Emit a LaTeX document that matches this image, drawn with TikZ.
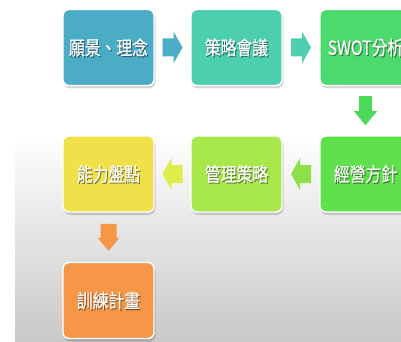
\documentclass[tikz,border=0pt]{standalone}
\usepackage{fontspec}
\usepackage{graphicx}
\newfontfamily\cjk[FakeBold=0.6]{Noto Sans CJK TC}
\usetikzlibrary{calc}
\definecolor{cA}{HTML}{4BACC6}
\definecolor{cB}{HTML}{4BCFAF}
\definecolor{cC}{HTML}{4CD96E}
\definecolor{cD}{HTML}{5EE14A}
\definecolor{cE}{HTML}{A8E84B}
\definecolor{cF}{HTML}{F0E14A}
\definecolor{cG}{HTML}{F79646}
\definecolor{aA}{HTML}{4BADC6}
\definecolor{aB}{HTML}{4BCFAF}
\definecolor{aC}{HTML}{4CD95A}
\definecolor{aD}{HTML}{8EE04A}
\definecolor{aE}{HTML}{DDEE4A}
\definecolor{aF}{HTML}{F79646}
\definecolor{bggray}{HTML}{C8C8C8}
\tikzset{
  stepbox/.style={rounded corners=6pt, minimum width=91pt, minimum height=76pt,
    draw=white, line width=1.4pt, inner sep=0pt},
  shadowbox/.style={rounded corners=7pt, minimum width=92pt, minimum height=77pt,
    fill=black, fill opacity=0.16, inner sep=0pt},
  txt/.style={font=\cjk\fontsize{15.8}{18}\selectfont, text=white, inner sep=0pt},
  txtshadow/.style={font=\cjk\fontsize{15.8}{18}\selectfont, text=black, text opacity=0.4, inner sep=0pt},
  pics/barrow/.style n args={4}{code={%
    \fill (-#1/2,-#3/2) -- (#1/2-#4,-#3/2) -- (#1/2-#4,-#2/2) -- (#1/2,0)
      -- (#1/2-#4,#2/2) -- (#1/2-#4,#3/2) -- (-#1/2,#3/2) -- cycle;}},
}
\newcommand\flowbox[5]{%
  \node[shadowbox] (#1s) at (#2+1,#3+2.5) {};
  \node[stepbox, fill=#4] (#1) at (#2,#3) {};
  \node[txtshadow] (#1ts) at (#2+1,#3+1.2) {\scalebox{1}[1.22]{#5}};
  \node[txt] (#1t) at (#2,#3) {\scalebox{1}[1.22]{#5}};
}
\begin{document}
\begin{tikzpicture}[x=1pt,y=-1pt]
  \useasboundingbox (0,0) rectangle (401,342);
  \clip (0,0) rectangle (401,342);
  \fill[white] (0,0) rectangle (401,342);
  \shade[top color=white, bottom color=bggray] (15,135) rectangle (401,342);

  \flowbox{b1}{108.5}{47.5}{cA}{願景、理念}
  \flowbox{b2}{236.5}{47.5}{cB}{策略會議}
  \flowbox{b3}{365.5}{47.5}{cC}{SWOT分析}
  \flowbox{b4}{365.5}{174}{cD}{經營方針}
  \flowbox{b5}{236.5}{174}{cE}{管理策略}
  \flowbox{b6}{108.5}{174}{cF}{能力盤點}
  \flowbox{b7}{108.5}{300.5}{cG}{訓練計畫}

  \coordinate (a12) at ($(b1.east)!0.5!(b2.west)$);
  \coordinate (a23) at ($(b2.east)!0.5!(b3.west)$);
  \coordinate (a34) at ($(b3.south)!0.5!(b4.north)$);
  \coordinate (a45) at ($(b4.west)!0.5!(b5.east)$);
  \coordinate (a56) at ($(b5.west)!0.5!(b6.east)$);
  \coordinate (a67) at ($(b6.south)!0.5!(b7.north)$);

  \pic[fill=aA] at (a12) {barrow={20}{32}{18}{9}};
  \pic[fill=aB] at (a23) {barrow={20}{32}{18}{9}};
  \pic[fill=aC, rotate=-90] at (a34) {barrow={29}{23}{13}{14}};
  \pic[fill=aD, rotate=180] at (a45) {barrow={20}{32}{18}{9}};
  \pic[fill=aE, rotate=180] at (a56) {barrow={20}{32}{18}{9}};
  \pic[fill=aF, rotate=-90] at (a67) {barrow={27}{22}{16}{13}};
\end{tikzpicture}
\end{document}
